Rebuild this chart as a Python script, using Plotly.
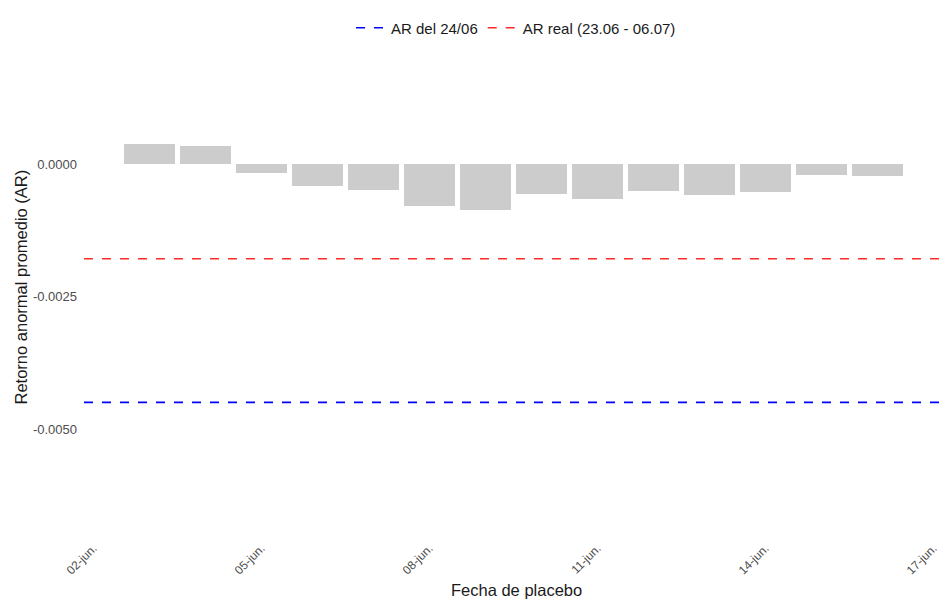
import plotly.graph_objects as go
import pandas as pd

# Data
dates = ["2016-06-03", "2016-06-04", "2016-06-05", "2016-06-06", "2016-06-07",
         "2016-06-08", "2016-06-09", "2016-06-10", "2016-06-11", "2016-06-12",
         "2016-06-13", "2016-06-14", "2016-06-15", "2016-06-16"]
ar_values = [0.00039, 0.00035, -0.00017, -0.00040, -0.00048,
             -0.00078, -0.00086, -0.00056, -0.00066, -0.00050,
             -0.00058, -0.00052, -0.00019, -0.00022]
ar_24 = -0.00449
ar_real = -0.00178
tick_dates = ["2016-06-02", "2016-06-05", "2016-06-08", "2016-06-11", "2016-06-14", "2016-06-17"]
tick_labels = ["02-jun.", "05-jun.", "08-jun.", "11-jun.", "14-jun.", "17-jun."]
y_ticks = [0.0, -0.0025, -0.005]
y_tick_labels = ["0.0000", "-0.0025", "-0.0050"]

day_ms = 86400000
x_start = pd.Timestamp("2016-06-02") - pd.Timedelta(hours=4)
x_end = pd.Timestamp("2016-06-17") + pd.Timedelta(hours=6.3)

fig = go.Figure()
fig.add_trace(go.Bar(
    x=pd.to_datetime(dates), y=ar_values,
    width=0.9 * day_ms,
    marker=dict(color="#CCCCCC", line=dict(width=0)),
    showlegend=False, hoverinfo="x+y",
))
fig.add_trace(go.Scatter(
    x=[x_start, x_end], y=[ar_24, ar_24], mode="lines",
    line=dict(color="#0000FF", width=1.6, dash="dash"),
    name="AR del 24/06",
))
fig.add_trace(go.Scatter(
    x=[x_start, x_end], y=[ar_real, ar_real], mode="lines",
    line=dict(color="#FF2B2B", width=1.6, dash="dash"),
    name="AR real (23.06 - 06.07)",
))

FIG_W, FIG_H = 940, 593  # page body has an 8px margin
fig.update_layout(
    width=FIG_W, height=FIG_H,
    margin=dict(l=76, r=0, t=68, b=63, autoexpand=False),
    plot_bgcolor="white", paper_bgcolor="white",
    font=dict(family="Liberation Sans, Arial, sans-serif", color="#4D4D4D"),
    legend=dict(orientation="h", x=0.5, xanchor="center",
                yref="container", y=1 - 20 / FIG_H, yanchor="middle",
                font=dict(size=15, color="#1A1A1A"), bgcolor="rgba(0,0,0,0)"),
    bargap=0,
)
fig.update_xaxes(
    type="date", range=[x_start, x_end],
    tickvals=pd.to_datetime(tick_dates), ticktext=tick_labels,
    tickangle=-45, tickfont=dict(size=12, color="#4D4D4D"),
    showgrid=False, zeroline=False, showline=False, ticks="",
    automargin=False,
    title=dict(text=""),
)
fig.update_yaxes(
    range=[-0.00705, 0.00167],
    tickvals=y_ticks, ticktext=y_tick_labels,
    tickfont=dict(size=13, color="#4D4D4D"),
    showgrid=False, zeroline=False, showline=False, ticks="",
    ticklabelstandoff=6, automargin=False,
    title=dict(text=""),
)
# Axis titles as annotations
fig.add_annotation(text="Fecha de placebo", xref="paper", x=0.5, yref="paper",
                   y=-(590 - 538) / 462, yanchor="middle", showarrow=False,
                   font=dict(size=16.5, color="#1A1A1A"))
fig.add_annotation(text="Retorno anormal promedio (AR)", xref="paper", x=-(84 - 20) / 864,
                   xanchor="center", yref="paper", y=(538 - 287.5) / 462, yanchor="middle",
                   textangle=-90, showarrow=False,
                   font=dict(size=16.5, color="#1A1A1A"))

fig.write_html("out.html")
